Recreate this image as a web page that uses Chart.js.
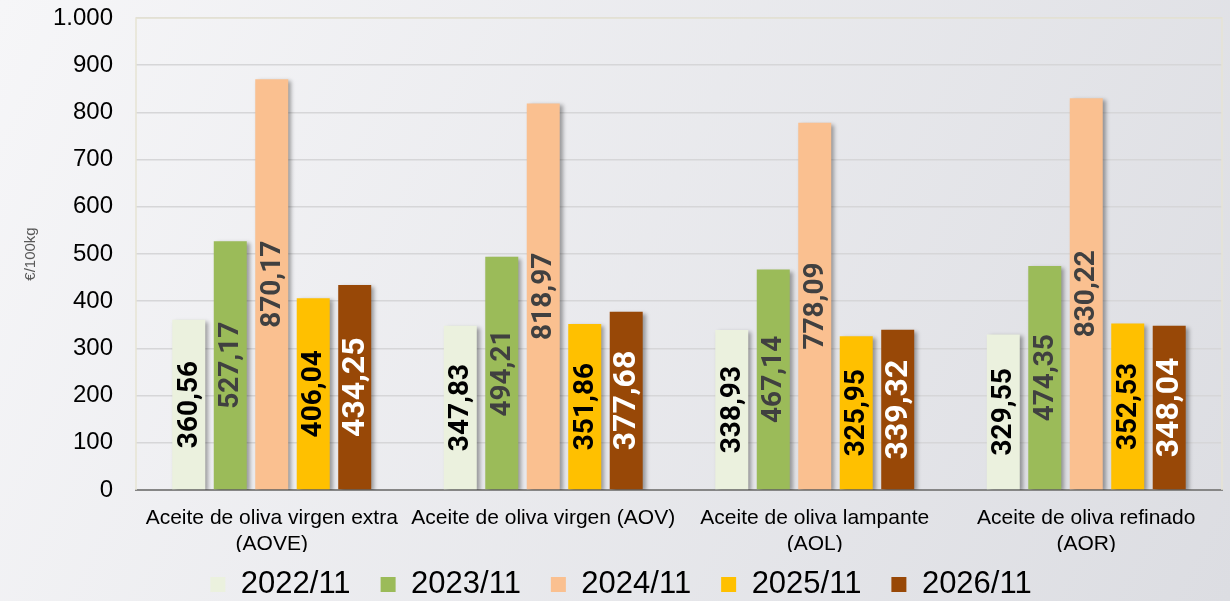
<!DOCTYPE html>
<html>
<head>
<meta charset="utf-8">
<script src="https://cdn.jsdelivr.net/npm/chart.js@4"></script>
<style>
  html, body { margin: 0; padding: 0; }
  body { width: 1230px; height: 601px; overflow: hidden; }
</style>
</head>
<body>
<canvas id="preciosChart" width="1230" height="601"></canvas>
<script>
// Categories (x axis) and one series per campaign
const categories = [
  ["Aceite de oliva virgen extra", "(AOVE)"],
  "Aceite de oliva virgen (AOV)",
  ["Aceite de oliva lampante", "(AOL)"],
  ["Aceite de oliva refinado", "(AOR)"],
];
const seriesLabels = ["2022/11", "2023/11", "2024/11", "2025/11", "2026/11"];
const values2022 = [360.56, 347.83, 338.93, 329.55];
const values2023 = [527.17, 494.21, 467.14, 474.35];
const values2024 = [870.17, 818.97, 778.09, 830.22];
const values2025 = [406.04, 351.86, 325.95, 352.53];
const values2026 = [434.25, 377.68, 339.32, 348.04];
const yTicks = [0, 100, 200, 300, 400, 500, 600, 700, 800, 900, 1000];

const barColors = ["#ebf1de", "#9bbb59", "#fac090", "#ffc000", "#984807"];
const labelColors = ["#000000", "#404040", "#404040", "#000000", "#ffffff"];
const labelSizes = [28, 28, 28, 28, 32];

const fmt = (v, dec) =>
  v.toLocaleString("es-ES", { minimumFractionDigits: dec, maximumFractionDigits: dec, useGrouping: "always" });

// Background gradient for the whole picture
const backgroundPlugin = {
  id: "background",
  beforeDraw(chart) {
    const { ctx, width, height } = chart;
    const g = ctx.createLinearGradient(0, 0, width, height);
    g.addColorStop(0, "#f6f6f8");
    g.addColorStop(1, "#dcdde2");
    ctx.save();
    ctx.fillStyle = g;
    ctx.fillRect(0, 0, width, height);
    ctx.restore();
  },
  // beige frame of the plot area (left, top, right)
  beforeDatasetsDraw(chart) {
    const { ctx, chartArea: a } = chart;
    ctx.save();
    ctx.strokeStyle = "#e6e3d3";
    ctx.lineWidth = 1.5;
    ctx.beginPath();
    ctx.moveTo(a.left, a.bottom);
    ctx.lineTo(a.left, a.top);
    ctx.lineTo(a.right, a.top);
    ctx.lineTo(a.right, a.bottom);
    ctx.stroke();
    ctx.restore();
  },
};

// Legend with a fixed height, drawn a bit higher and to the right of where the layout puts it
const legendHeightPlugin = {
  id: "legendHeight",
  beforeLayout(chart) {
    const legend = chart.legend;
    if (legend && !legend._fixedFit) {
      const fit = legend.fit;
      legend.fit = function () {
        fit.call(this);
        this.height = 49;
      };
      legend._fixedFit = true;
    }
  },
  afterLayout(chart) {
    const legend = chart.legend;
    legend.top = 539;
    legend.bottom = 601;
    legend.height = 62;
    legend.left += 10;
    legend.right += 10;
  },
};

// Drop shadow on the bars
const shadowPlugin = {
  id: "barShadow",
  beforeDatasetsDraw(chart) {
    const ctx = chart.ctx;
    ctx.save();
    ctx.shadowColor = "rgba(0,0,0,0.35)";
    ctx.shadowBlur = 4;
    ctx.shadowOffsetX = 3;
    ctx.shadowOffsetY = 2;
  },
  afterDatasetsDraw(chart) {
    chart.ctx.restore();
  },
};

// Rotated value labels in the middle of each bar
const valueLabelPlugin = {
  id: "valueLabels",
  afterDatasetsDraw(chart) {
    const ctx = chart.ctx;
    chart.data.datasets.forEach((ds, i) => {
      const meta = chart.getDatasetMeta(i);
      meta.data.forEach((bar, j) => {
        const yMid = (bar.y + bar.base) / 2;
        ctx.save();
        ctx.translate(bar.x, yMid);
        ctx.rotate(-Math.PI / 2);
        ctx.font = "bold " + labelSizes[i] + "px Roboto";
        ctx.fillStyle = labelColors[i];
        ctx.textAlign = "center";
        ctx.textBaseline = "middle";
        ctx.fillText(fmt(ds.data[j], 2), 0, 1);
        ctx.restore();
      });
    });
  },
};

const allValues = [values2022, values2023, values2024, values2025, values2026];

const preciosChart = new Chart(document.getElementById("preciosChart"), {
  type: "bar",
  data: {
    labels: categories,
    datasets: seriesLabels.map((label, i) => ({
      label: label,
      data: allValues[i],
      backgroundColor: barColors[i],
      borderWidth: 0,
      barPercentage: 0.795,
      categoryPercentage: 0.764,
    })),
  },
  options: {
    responsive: false,
    animation: false,
    layout: { padding: { top: 18, right: 8, left: 0, bottom: 0 } },
    plugins: {
      legend: {
        position: "bottom",
        labels: {
          color: "#000",
          font: { family: "Liberation Sans", size: 31 },
          boxWidth: 15,
          boxHeight: 15,
          padding: 30,
        },
      },
      tooltip: { enabled: false },
    },
    scales: {
      x: {
        afterFit(scale) {
          scale.height = 62;
        },
        grid: { display: false, drawTicks: false },
        border: { color: "#868686", width: 2 },
        ticks: {
          color: "#000",
          font: { family: "Liberation Sans", size: 21 },
          padding: 16,
          maxRotation: 0,
          autoSkip: false,
        },
      },
      y: {
        min: 0,
        max: 1000,
        afterBuildTicks(scale) {
          scale.ticks = yTicks.map((v) => ({ value: v }));
        },
        afterFit(scale) {
          scale.width = 136;
          scale.paddingTop = 0;
          scale.paddingBottom = 0;
        },
        grid: { color: "#d6d6d8", lineWidth: 1.5, drawTicks: false },
        border: { display: false },
        ticks: {
          color: "#000",
          font: { family: "Liberation Sans", size: 24 },
          padding: 23,
          callback: (v) => fmt(v, 0),
        },
        title: {
          display: true,
          text: "€/100kg",
          color: "#595959",
          font: { family: "Liberation Sans", size: 15 },
          padding: { top: 22, bottom: 0 },
        },
      },
    },
  },
  plugins: [backgroundPlugin, legendHeightPlugin, shadowPlugin, valueLabelPlugin],
});
</script>
</body>
</html>
